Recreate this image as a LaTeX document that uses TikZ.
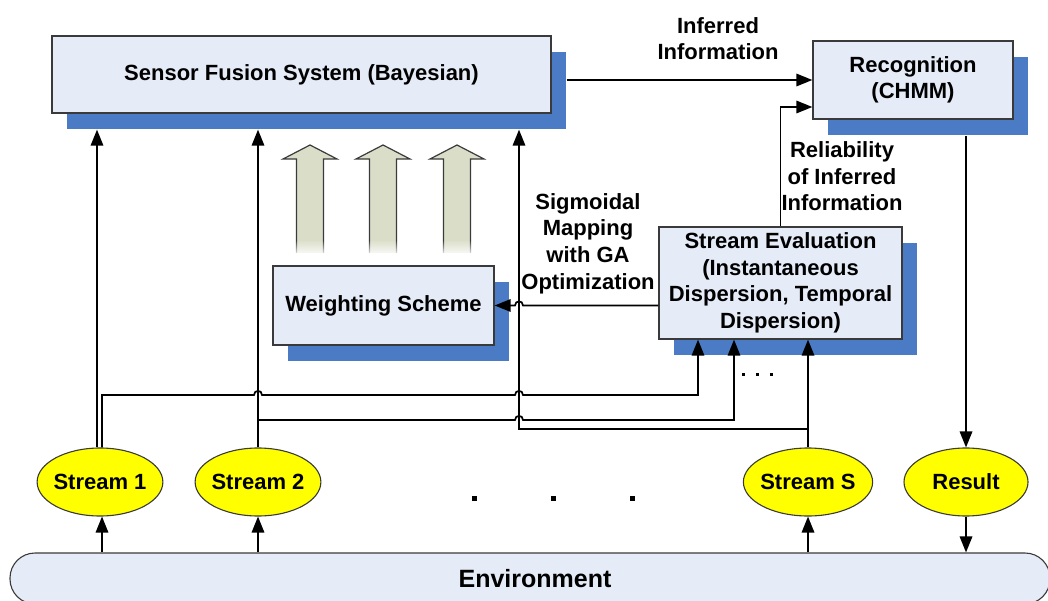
\documentclass[tikz,border=0pt]{standalone}
\usepackage{fontspec}
\setmainfont{Liberation Sans}
\usetikzlibrary{arrows.meta,shapes.geometric,shadows,fadings}
\definecolor{boxfill}{HTML}{E5EBF7}
\definecolor{boxshadow}{HTML}{4A7BC4}
\definecolor{boxline}{HTML}{3A3A3A}
\definecolor{streamfill}{HTML}{FFFF00}
\definecolor{weightarrow}{HTML}{DADEC9}
\tikzfading[name=tailfade, top color=transparent!100, bottom color=transparent!0]
\begin{document}
\begin{tikzpicture}[x=1pt,y=-1pt,
  txt/.style={font=\fontsize{22}{26.6}\selectfont\bfseries, align=center, text=black, inner sep=0pt},
  box/.style={txt, draw=boxline, line width=1.3pt, fill=boxfill,
    drop shadow={shadow xshift=15pt, shadow yshift=-16pt, fill=boxshadow, opacity=1}},
  stream/.style={txt, ellipse, draw=boxline, line width=1.1pt, fill=streamfill,
    inner xsep=-2pt, minimum width=124, minimum height=68},
  envbox/.style={draw=boxline, line width=1.1pt, fill=boxfill, rounded corners=25pt},
  conn/.style={line width=1.7pt, black},
  arr/.style={conn, -{Triangle[length=16pt,width=12.5pt]}},
]
\useasboundingbox (0,0) rectangle (1048,601);

% main blocks
\node[box, minimum width=499, minimum height=77] (sf) at (301.5,74.5) {Sensor Fusion System (Bayesian)};
\node[box, minimum width=200, minimum height=78] (rec) at (913,80) {Recognition\\(CHMM)};
\node[box, minimum width=243, minimum height=112] (se) at (780.5,283)
  {Stream Evaluation\\(Instantaneous\\Dispersion, Temporal\\Dispersion)};
\node[box, minimum width=221, minimum height=79] (ws) at (383.5,305.5) {Weighting Scheme};

% streams and result
\node[stream] (s1) at (100,482) {Stream 1};
\node[stream] (s2) at (258,482) {Stream 2};
\node[stream] (sS) at (808,482) {Stream S};
\node[stream] (res) at (966,482) {Result};

% environment strip along the bottom
\node[envbox, txt, font=\fontsize{25}{30}\selectfont\bfseries,
  minimum width=1040, minimum height=51] (env) at (530,578.5) {\hspace{10pt}Environment};

% labels
\node[txt] (inflbl) at (718,38.5) {Inferred\\Information};
\node[txt] (rellbl) at (842,176.5) {Reliability\\of Inferred\\Information};
\node[txt] (siglbl) at (588,243.5) {Sigmoidal\\Mapping\\with GA\\Optimization};

% weights pushed up into the fusion system
\foreach \cx in {310,383,457}{
  \fill[weightarrow] (\cx-13.5,253) -- (\cx-13.5,159) -- (\cx-27,159) -- (\cx,145)
    -- (\cx+27,159) -- (\cx+13.5,159) -- (\cx+13.5,253) -- cycle;
  \draw[boxline, line width=1.2pt] (\cx-13.5,253) -- (\cx-13.5,159) -- (\cx-27,159) -- (\cx,145)
    -- (\cx+27,159) -- (\cx+13.5,159) -- (\cx+13.5,253);
  \fill[white, path fading=tailfade] (\cx-16,240) rectangle (\cx+16,256);
}

% helper points
\coordinate (sfS) at ([yshift=-16pt]sf.south);
\coordinate (sfE) at ([xshift=15pt]sf.east);
\coordinate (recS) at ([yshift=-16pt]rec.south);
\coordinate (s1a) at ([xshift=-3pt]s1.north);
\coordinate (s1b) at ([xshift=2pt]s1.north);

% fusion -> recognition -> result
\draw[arr] (sfE |- rec.west) -- (rec.west);
\draw[arr] (se.north) |- ([yshift=-27pt]rec.west);
\draw[arr] (res.north |- recS) -- (res.north);
\draw[arr] (res.south) -- (res.south |- env.north);

% environment feeds the streams
\draw[arr] (s1b |- env.north) -- ([xshift=2pt]s1.south);
\draw[arr] (s2.south |- env.north) -- (s2.south);
\draw[arr] (sS.south |- env.north) -- (sS.south);

% streams into the fusion system
\draw[arr] (s1a) -- (s1a |- sfS);
\draw[arr] (s2.north) -- (s2.north |- sfS);
\draw[arr] (sS.north |- 0,429) -- (519,429) -- (519,0 |- sfS);

% streams into the evaluation
\draw[arr] (s1b) -- (s1b |- 0,395) -- (254,395)
  .. controls (254,389.5) and (262,389.5) .. (262,395) -- (515,395)
  .. controls (515,389.5) and (523,389.5) .. (523,395) -- (698,395) -- (698,0 |- se.south);
\draw[arr] (s2.north |- 0,420) -- (515,420)
  .. controls (515,414.5) and (523,414.5) .. (523,420) -- (734,420) -- (734,0 |- se.south);
\draw[arr] (sS.north) -- (sS.north |- se.south);

% evaluation -> weighting
\draw[arr] (se.west |- ws.east) -- (523,305.5)
  .. controls (523,300) and (515,300) .. (515,305.5) -- (ws.east);

% ellipsis marks
\foreach \dx in {474,553,632}{\fill (\dx-2.5,495.5) rectangle (\dx+2.5,500.5);}
\foreach \dx in {743,757,771}{\fill (\dx-1.5,372.5) rectangle (\dx+1.5,375.5);}
\end{tikzpicture}
\end{document}
